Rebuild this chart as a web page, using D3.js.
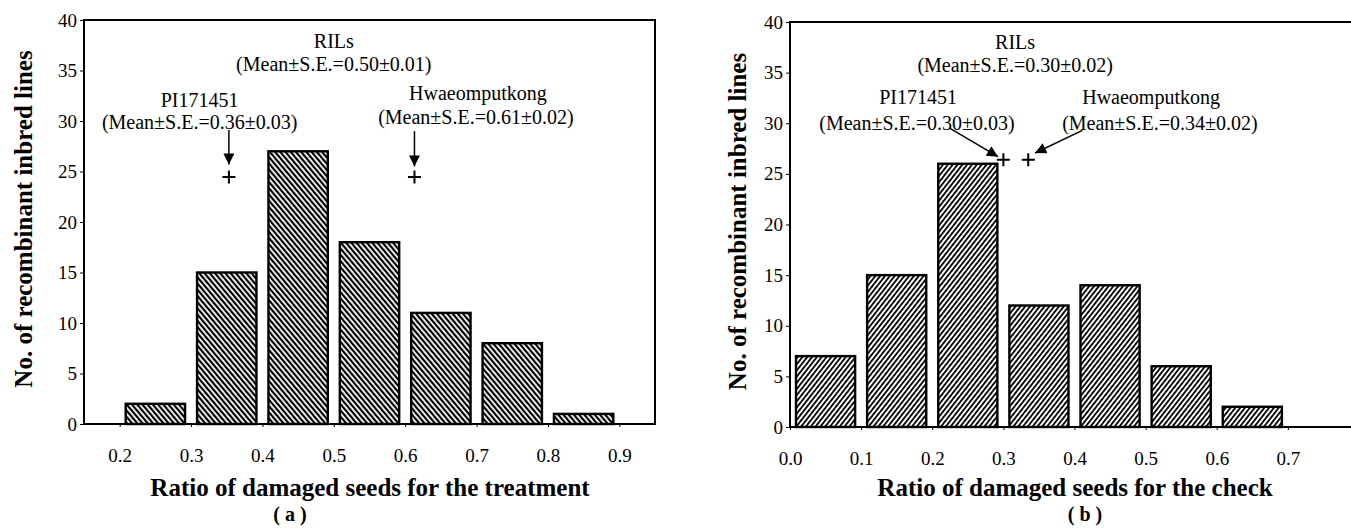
<!DOCTYPE html>
<html><head><meta charset="utf-8">
<script src="https://cdn.jsdelivr.net/npm/d3@7"></script>
<style>
body{margin:0;background:#fff}
text{font-family:"Liberation Serif","Times New Roman",serif;fill:#000}
</style>
</head><body>
<svg id="chart" width="1351" height="531"></svg>
<script>
// ---------- data ----------
const yTicks = [0, 5, 10, 15, 20, 25, 30, 35, 40];
const binWidth = 0.1;

const binStartsA = [0.2, 0.3, 0.4, 0.5, 0.6, 0.7, 0.8];
const countsA = [2, 15, 27, 18, 11, 8, 1];
const tickValsA = [0.2, 0.3, 0.4, 0.5, 0.6, 0.7, 0.8, 0.9];
const tickLabelsA = ["0.2", "0.3", "0.4", "0.5", "0.6", "0.7", "0.8", "0.9"];

const binStartsB = [0.0, 0.1, 0.2, 0.3, 0.4, 0.5, 0.6];
const countsB = [7, 15, 26, 12, 14, 6, 2];
const tickValsB = [0.0, 0.1, 0.2, 0.3, 0.4, 0.5, 0.6, 0.7];
const tickLabelsB = ["0.0", "0.1", "0.2", "0.3", "0.4", "0.5", "0.6", "0.7"];

const parentNames = ["PI171451", "Hwaeomputkong"];
const parentStatsA = ["(Mean\u00B1S.E.=0.36\u00B10.03)", "(Mean\u00B1S.E.=0.61\u00B10.02)"];
const parentStatsB = ["(Mean\u00B1S.E.=0.30\u00B10.03)", "(Mean\u00B1S.E.=0.34\u00B10.02)"];
const parentMarkXA = [0.353, 0.613];
const parentMarkYA = [24.45, 24.45];
const parentMarkXB = [0.30, 0.335];
const parentMarkYB = [26.4, 26.4];
const rilName = "RILs";
const rilStatA = "(Mean\u00B1S.E.=0.50\u00B10.01)";
const rilStatB = "(Mean\u00B1S.E.=0.30\u00B10.02)";

const xTitleA = "Ratio of damaged seeds for the treatment";
const xTitleB = "Ratio of damaged seeds for the check";
const yTitle = "No. of recombinant inbred lines";
const panelTagA = "( a )";
const panelTagB = "( b )";

// ---------- layout (pixels / data-space anchors) ----------
const panels = [
  {
    bins: binStartsA, counts: countsA, ticks: tickValsA, labels: tickLabelsA,
    xDomain: [0.15, 0.95], xRange: [84, 655], yRange: [424, 20],
    pattern: "hatchA", xTitle: xTitleA, tag: panelTagA,
    xTitleX: 370, tagX: 290, yTitleX: 23,
    ril: { x: 0.50, y1: 37.9, y2: 35.6, stat: rilStatA },
    parents: [
      { nx: 0.312, ny: 32.1, sx: 0.312, sy: 29.9, stat: parentStatsA[0], name: parentNames[0],
        mx: parentMarkXA[0], my: parentMarkYA[0], a0: [parentMarkXA[0], 29.1], a1: [parentMarkXA[0], 25.7] },
      { nx: 0.702, ny: 32.8, sx: 0.699, sy: 30.4, stat: parentStatsA[1], name: parentNames[1],
        mx: parentMarkXA[1], my: parentMarkYA[1], a0: [parentMarkXA[1], 29.0], a1: [parentMarkXA[1], 25.5] }
    ]
  },
  {
    bins: binStartsB, counts: countsB, ticks: tickValsB, labels: tickLabelsB,
    xDomain: [0.0, 0.8], xRange: [790, 1359], yRange: [427, 22],
    pattern: "hatchB", xTitle: xTitleB, tag: panelTagB,
    xTitleX: 1075, tagX: 1085, yTitleX: 737,
    ril: { x: 0.3165, y1: 38.0, y2: 35.75, stat: rilStatB },
    parents: [
      { nx: 0.180, ny: 32.6, sx: 0.1786, sy: 30.0, stat: parentStatsB[0], name: parentNames[0],
        mx: parentMarkXB[0], my: parentMarkYB[0], a0: [0.225, 29.5], a1: [0.2925, 26.7] },
      { nx: 0.5077, ny: 32.6, sx: 0.52, sy: 30.0, stat: parentStatsB[1], name: parentNames[1],
        mx: parentMarkXB[1], my: parentMarkYB[1], a0: [0.411, 29.3], a1: [0.3446, 27.06] }
    ]
  }
];

const svg = d3.select("#chart");
svg.append("rect").attr("width", 1351).attr("height", 531).attr("fill", "#fff");

const defs = svg.append("defs");
function hatch(id, angle, period, thick) {
  const p = defs.append("pattern").attr("id", id)
    .attr("patternUnits", "userSpaceOnUse")
    .attr("width", period).attr("height", 10)
    .attr("patternTransform", `rotate(${angle})`);
  p.append("rect").attr("width", period).attr("height", 10).attr("fill", "#fff");
  p.append("rect").attr("x", 0).attr("width", thick).attr("height", 10).attr("fill", "#000");
}
hatch("hatchA", -40, 4.0, 2.2);
hatch("hatchB", 38, 3.8, 1.8);

defs.append("marker").attr("id", "arrowHead")
  .attr("viewBox", "0 0 10 10").attr("refX", 10).attr("refY", 5)
  .attr("markerUnits", "userSpaceOnUse")
  .attr("markerWidth", 12).attr("markerHeight", 11)
  .attr("orient", "auto")
  .append("path").attr("d", "M0,0 L10,5 L0,10 Z").attr("fill", "#000");

panels.forEach(p => {
  const x = d3.scaleLinear().domain(p.xDomain).range(p.xRange);
  const y = d3.scaleLinear().domain([0, 40]).range(p.yRange);
  const g = svg.append("g");

  // bars
  const pad = 6;
  g.selectAll("rect.bar").data(p.bins).join("rect").attr("class", "bar")
    .attr("x", d => x(d) + pad)
    .attr("width", d => x(d + binWidth) - x(d) - 2 * pad)
    .attr("y", (d, i) => y(p.counts[i]))
    .attr("height", (d, i) => y(0) - y(p.counts[i]))
    .attr("fill", `url(#${p.pattern})`)
    .attr("stroke", "#000").attr("stroke-width", 2.4);

  // frame
  g.append("rect")
    .attr("x", p.xRange[0]).attr("y", p.yRange[1])
    .attr("width", p.xRange[1] - p.xRange[0]).attr("height", p.yRange[0] - p.yRange[1])
    .attr("fill", "none").attr("stroke", "#000").attr("stroke-width", 2);

  // y axis
  const ya = g.append("g").attr("transform", `translate(${p.xRange[0]},0)`)
    .call(d3.axisLeft(y).tickValues(yTicks).tickSize(4).tickPadding(3));
  ya.attr("font-family", null).attr("font-size", null);
  ya.select(".domain").remove();
  ya.selectAll("line").attr("stroke-width", 1);
  ya.selectAll("text").style("font-family", "'Liberation Serif'").style("font-size", "19px");

  // x axis
  const xa = g.append("g").attr("transform", `translate(0,${p.yRange[0]})`)
    .call(d3.axisBottom(x).tickValues(p.ticks).tickFormat((d, i) => p.labels[i]).tickSize(3));
  xa.attr("font-family", null).attr("font-size", null);
  xa.select(".domain").remove();
  xa.selectAll("line").attr("stroke-width", 1);
  xa.selectAll("text").attr("y", 31).attr("dy", "0.35em")
    .style("font-family", "'Liberation Serif'").style("font-size", "19px");

  // titles
  g.append("text").attr("x", p.xTitleX).attr("y", 487).attr("dy", "0.35em")
    .attr("text-anchor", "middle").style("font-weight", "bold").style("font-size", "25px")
    .text(p.xTitle);
  g.append("text").attr("x", p.tagX).attr("y", 514).attr("dy", "0.35em")
    .attr("text-anchor", "middle").style("font-weight", "bold").style("font-size", "20px")
    .text(p.tag);
  const yc = (p.yRange[0] + p.yRange[1]) / 2 - 3;
  g.append("text").attr("transform", `translate(${p.yTitleX},${yc}) rotate(-90)`)
    .attr("dy", "0.35em").attr("text-anchor", "middle")
    .style("font-weight", "bold").style("font-size", "25px").text(yTitle);

  // RIL annotation
  g.append("text").attr("x", x(p.ril.x)).attr("y", y(p.ril.y1)).attr("dy", "0.35em")
    .attr("text-anchor", "middle").style("font-size", "20px").text(rilName);
  g.append("text").attr("x", x(p.ril.x)).attr("y", y(p.ril.y2)).attr("dy", "0.35em")
    .attr("text-anchor", "middle").style("font-size", "20px").text(p.ril.stat);

  // parents
  p.parents.forEach(q => {
    g.append("text").attr("x", x(q.nx)).attr("y", y(q.ny)).attr("dy", "0.35em")
      .attr("text-anchor", "middle").style("font-size", "20px").text(q.name);
    g.append("text").attr("x", x(q.sx)).attr("y", y(q.sy)).attr("dy", "0.35em")
      .attr("text-anchor", "middle").style("font-size", "20px").text(q.stat);
    g.append("line")
      .attr("x1", x(q.a0[0])).attr("y1", y(q.a0[1]))
      .attr("x2", x(q.a1[0])).attr("y2", y(q.a1[1]))
      .attr("stroke", "#000").attr("stroke-width", 1.5)
      .attr("marker-end", "url(#arrowHead)");
    const cx = x(q.mx), cy = y(q.my), s = 6.5;
    g.append("path")
      .attr("d", `M${cx - s},${cy}H${cx + s}M${cx},${cy - s}V${cy + s}`)
      .attr("stroke", "#000").attr("stroke-width", 2).attr("fill", "none");
  });
});
</script>
</body></html>
